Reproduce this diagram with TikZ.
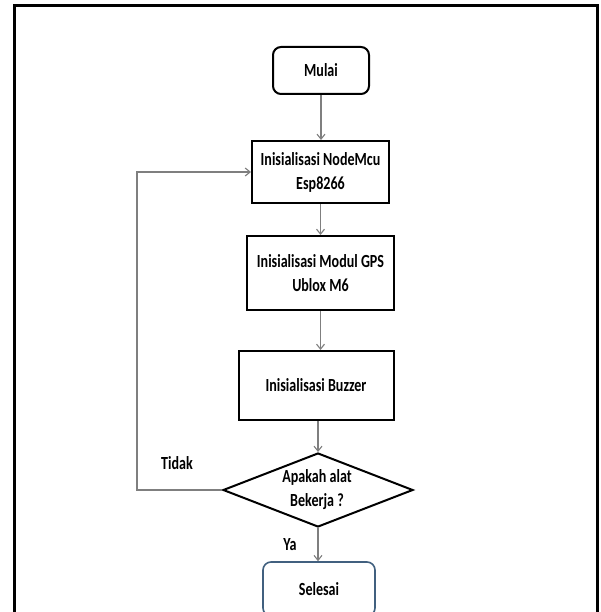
\documentclass[tikz,border=0pt]{standalone}
\usepackage{fontspec}
\setmainfont{Carlito}[FakeStretch=0.76]
\usetikzlibrary{shapes.geometric,arrows.meta}
\definecolor{conn}{HTML}{7F7F7F}
\definecolor{endblue}{HTML}{41607F}
\begin{document}
\begin{tikzpicture}[x=1pt,y=-1pt,
  font=\fontsize{18.5}{24}\selectfont\bfseries,
  box/.style={draw=black,line width=2pt,rectangle,inner sep=0pt,align=center},
  term/.style={draw=black,line width=2pt,rectangle,rounded corners=8pt,inner sep=0pt,align=center},
  decis/.style={draw=black,line width=2pt,diamond,inner sep=0pt},
  arr/.style={draw=conn,line width=1.1pt,-{Straight Barb[length=5pt,width=8pt]}},
  lbl/.style={inner sep=0pt}]
\useasboundingbox (0,0) rectangle (600,612);
\clip (0,0) rectangle (600,612);
\draw[line width=3pt] (14,6) rectangle (597,640);
\node[term,minimum width=96pt,minimum height=47pt] (mulai) at (321,70.5) {Mulai};
\node[box,minimum width=137pt,minimum height=62pt] (mcu) at (320.5,172) {Inisialisasi NodeMcu\\Esp8266};
\node[box,minimum width=147pt,minimum height=74pt] (gps) at (320.5,273) {Inisialisasi Modul GPS\\Ublox M6};
\node[box,minimum width=155pt,minimum height=69pt] (buz) at (316,385.5) {Inisialisasi Buzzer};
\node[decis,minimum width=190pt,minimum height=74pt] (dia) at (318,490) {};
\node[lbl,align=center] (diat) at (317,490) {Apakah alat\\Bekerja ?};
\node[draw=endblue,line width=1.6pt,rectangle,rounded corners=8pt,inner sep=0pt,minimum width=112pt,minimum height=54pt] (sel) at (319,589) {Selesai};
\coordinate (lp1) at (137,490);
\coordinate (lp2) at (137,172);
\draw[arr] (mulai.south) -- (mulai.south |- mcu.north);
\draw[arr] (mcu.south) -- (mcu.south |- gps.north);
\draw[arr] (gps.south) -- (gps.south |- buz.north);
\draw[arr] (buz.south -| dia.north) -- (dia.north);
\draw[arr] (dia.south) -- (dia.south |- sel.north);
\draw[arr] (dia.west) -- (lp1) -- (lp2) -- (mcu.west);
\node[lbl] (tidak) at (177,463) {Tidak};
\node[lbl] (ya) at (290,545) {Ya};
\end{tikzpicture}
\end{document}
